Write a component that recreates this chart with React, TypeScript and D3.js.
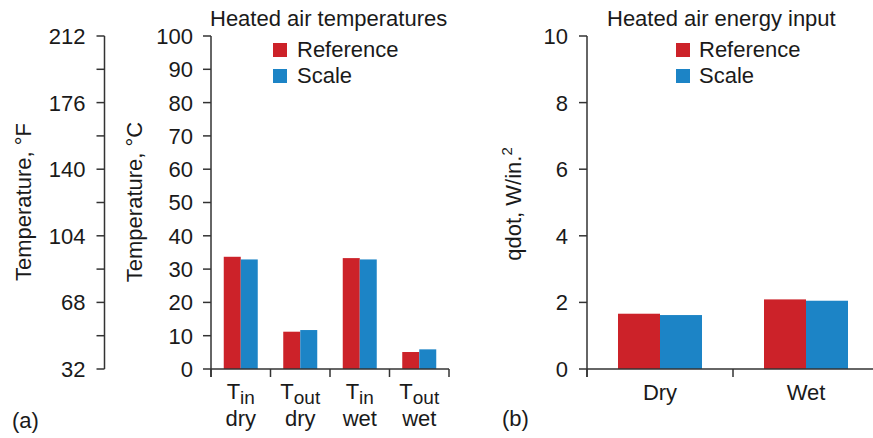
import React from "react";
import * as d3 from "d3";

// ---- data ----
const tempSubs = ["in", "out", "in", "out"];
const tempConds = ["dry", "dry", "wet", "wet"];
const refTemps = [33.7, 11.2, 33.3, 5.1];
const scaleTemps = [32.9, 11.7, 32.9, 5.9];

const energyCats = ["Dry", "Wet"];
const refEnergy = [1.66, 2.09];
const scaleEnergy = [1.62, 2.05];

const fTicks = [32, 50, 68, 86, 104, 122, 140, 158, 176, 194, 212];
const fLabels = [32, 68, 104, 140, 176, 212];
const cTicks = [0, 10, 20, 30, 40, 50, 60, 70, 80, 90, 100];
const qTicks = [0, 2, 4, 6, 8, 10];

const seriesNames = ["Reference", "Scale"];
const seriesColors = ["#CC2229", "#1C84C6"];

const FONT = "'Liberation Sans', Arial, Helvetica, sans-serif";
const TXT = "#1a1a1a";
const AX = "#333";

export default function App() {
  const y0 = 369, y1 = 36;
  const yF = d3.scaleLinear().domain([32, 212]).range([y0, y1]);
  const yC = d3.scaleLinear().domain([0, 100]).range([y0, y1]);
  const yQ = d3.scaleLinear().domain([0, 10]).range([y0, y1]);

  const fAxisX = 104.5;
  const cAxisX = 211;
  const qAxisX = 587;

  const xT = d3.scaleBand<number>().domain(d3.range(4)).range([cAxisX, 449]).paddingInner(0).paddingOuter(0);
  const xTi = d3.scaleBand<number>().domain([0, 1]).range([0, xT.bandwidth()]).paddingInner(0).paddingOuter(0.75);

  const xE = d3.scaleBand<number>().domain(d3.range(2)).range([qAxisX, 879]).paddingInner(0).paddingOuter(0);
  const xEi = d3.scaleBand<number>().domain([0, 1]).range([0, xE.bandwidth()]).paddingInner(0).paddingOuter(0.738);

  const tickLen = 8;
  const fs = 22;

  const tempSeries = [refTemps, scaleTemps];
  const energySeries = [refEnergy, scaleEnergy];

  return (
    <svg width={873} height={438} style={{ position: "absolute", left: 0, top: 0, background: "#fff" }} fontFamily={FONT}>
      <rect x={0} y={0} width={873} height={438} fill="#fff" />
      {/* F axis */}
      <g>
        <line x1={fAxisX} x2={fAxisX} y1={yF(32)} y2={yF(212)} stroke={AX} strokeWidth={1.5} />
        {fTicks.map((t) => (
          <line key={t} x1={fAxisX - tickLen} x2={fAxisX} y1={yF(t)} y2={yF(t)} stroke={AX} strokeWidth={1.5} />
        ))}
        {fLabels.map((t) => (
          <text key={t} x={fAxisX - 19} y={yF(t)} dy="0.36em" textAnchor="end" fontSize={fs} fill={TXT}>{t}</text>
        ))}
        <text transform={`translate(31,202) rotate(-90)`} textAnchor="middle" fontSize={fs} fill={TXT}>Temperature, °F</text>
      </g>
      {/* C axis */}
      <g>
        <line x1={cAxisX} x2={cAxisX} y1={yC(0) + 8} y2={yC(100)} stroke={AX} strokeWidth={1.5} />
        {cTicks.map((t) => (
          <line key={t} x1={cAxisX - tickLen} x2={cAxisX} y1={yC(t)} y2={yC(t)} stroke={AX} strokeWidth={1.5} />
        ))}
        {cTicks.map((t) => (
          <text key={t} x={cAxisX - 18} y={yC(t)} dy="0.36em" textAnchor="end" fontSize={fs} fill={TXT}>{t}</text>
        ))}
        <text transform={`translate(142,202) rotate(-90)`} textAnchor="middle" fontSize={fs} fill={TXT}>Temperature, °C</text>
        {/* bars */}
        {tempSeries.map((vals, s) =>
          vals.map((v, i) => (
            <rect key={`${s}-${i}`} x={(xT(i) as number) + (xTi(s) as number)} width={xTi.bandwidth()} y={yC(v)} height={yC(0) - yC(v)} fill={seriesColors[s]} />
          ))
        )}
        <line x1={cAxisX} x2={449} y1={yC(0)} y2={yC(0)} stroke={AX} strokeWidth={1.5} />
        {d3.range(5).map((i) => {
          const x = i < 4 ? (xT(i) as number) : 449;
          return <line key={i} x1={x} x2={x} y1={yC(0)} y2={yC(0) + 8} stroke={AX} strokeWidth={1.5} />;
        })}
        {tempSubs.map((sub, i) => {
          const cx = (xT(i) as number) + xT.bandwidth() / 2;
          return (
            <g key={i}>
              <text x={cx} y={399} textAnchor="middle" fontSize={fs} fill={TXT}>
                T<tspan fontSize={19} dy={5}>{sub}</tspan>
              </text>
              <text x={cx} y={426} textAnchor="middle" fontSize={fs} fill={TXT}>{tempConds[i]}</text>
            </g>
          );
        })}
        <text x={210} y={26} fontSize={fs} fill={TXT}>Heated air temperatures</text>
        {seriesNames.map((n, s) => (
          <g key={n}>
            <rect x={273} y={43 + s * 26} width={14} height={14} fill={seriesColors[s]} />
            <text x={297} y={57 + s * 26} fontSize={fs} fill={TXT}>{n}</text>
          </g>
        ))}
        <text x={12} y={428} fontSize={fs} fill={TXT}>(a)</text>
      </g>
      {/* Right chart */}
      <g>
        <line x1={qAxisX} x2={qAxisX} y1={yQ(0) + 8} y2={yQ(10)} stroke={AX} strokeWidth={1.5} />
        {qTicks.map((t) => (
          <line key={t} x1={qAxisX - tickLen} x2={qAxisX} y1={yQ(t)} y2={yQ(t)} stroke={AX} strokeWidth={1.5} />
        ))}
        {qTicks.map((t) => (
          <text key={t} x={qAxisX - 19} y={yQ(t)} dy="0.36em" textAnchor="end" fontSize={fs} fill={TXT}>{t}</text>
        ))}
        <text transform={`translate(521,204) rotate(-90)`} textAnchor="middle" fontSize={fs} fill={TXT}>
          qdot, W/in.<tspan fontSize={15} dy={-9}>2</tspan>
        </text>
        {energySeries.map((vals, s) =>
          vals.map((v, i) => (
            <rect key={`${s}-${i}`} x={(xE(i) as number) + (xEi(s) as number)} width={xEi.bandwidth()} y={yQ(v)} height={yQ(0) - yQ(v)} fill={seriesColors[s]} />
          ))
        )}
        <line x1={qAxisX} x2={879} y1={yQ(0)} y2={yQ(0)} stroke={AX} strokeWidth={1.5} />
        {d3.range(3).map((i) => {
          const x = i < 2 ? (xE(i) as number) : 879;
          return <line key={i} x1={x} x2={x} y1={yQ(0)} y2={yQ(0) + 8} stroke={AX} strokeWidth={1.5} />;
        })}
        {energyCats.map((c, i) => (
          <text key={c} x={(xE(i) as number) + xE.bandwidth() / 2} y={400} textAnchor="middle" fontSize={fs} fill={TXT}>{c}</text>
        ))}
        <text x={607} y={26} fontSize={fs} fill={TXT}>Heated air energy input</text>
        {seriesNames.map((n, s) => (
          <g key={n}>
            <rect x={676} y={43 + s * 26} width={14} height={14} fill={seriesColors[s]} />
            <text x={699} y={57 + s * 26} fontSize={fs} fill={TXT}>{n}</text>
          </g>
        ))}
        <text x={502} y={426} fontSize={fs} fill={TXT}>(b)</text>
      </g>
    </svg>
  );
}
